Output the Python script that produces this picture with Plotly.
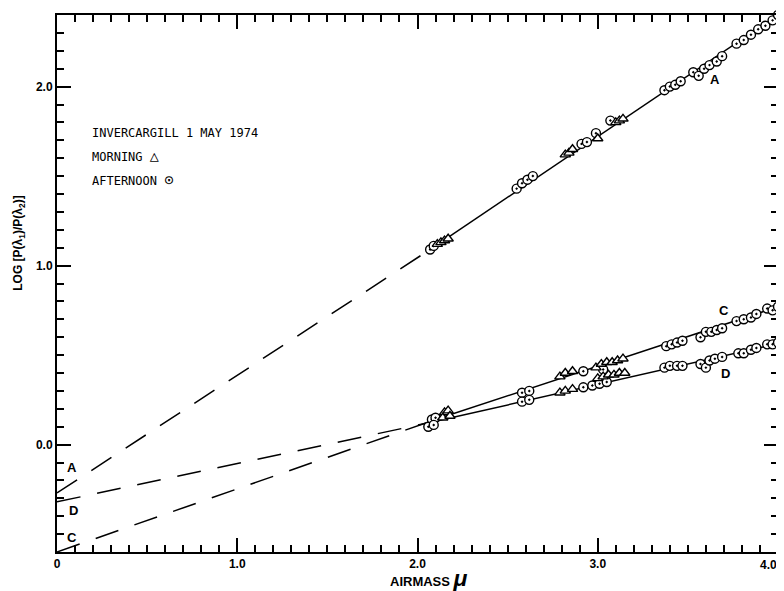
import plotly.graph_objects as go

# ---------------- data ----------------
# fitted lines: knots at airmass 0, 2.1 and 4.0
fit_x = [0.0, 2.1, 4.0]
fit_A = [-0.27, 1.11, 2.40]
fit_C = [-0.60, 0.14, 0.77]
fit_D = [-0.32, 0.13, 0.565]

# curve A
A_pm_x = [2.07, 2.09, 2.55, 2.58, 2.61, 2.64, 2.91, 2.94, 2.99, 3.07,
          3.37, 3.40, 3.43, 3.46, 3.53, 3.56, 3.59, 3.62, 3.66, 3.69,
          3.77, 3.81, 3.85, 3.89, 3.93, 3.97, 4.00]
A_pm_y = [1.09, 1.11, 1.43, 1.46, 1.48, 1.50, 1.68, 1.69, 1.74, 1.81,
          1.98, 2.00, 2.01, 2.03, 2.08, 2.06, 2.10, 2.12, 2.14, 2.17,
          2.24, 2.26, 2.29, 2.32, 2.34, 2.37, 2.40]
A_am_x = [2.11, 2.13, 2.15, 2.17, 2.82, 2.84, 2.86, 3.00, 3.10, 3.12, 3.14]
A_am_y = [1.12, 1.13, 1.14, 1.15, 1.62, 1.63, 1.65, 1.71, 1.80, 1.81, 1.82]

# curve C
C_pm_x = [2.08, 2.10, 2.58, 2.62, 2.92, 3.03, 3.38, 3.41, 3.44, 3.47,
          3.57, 3.60, 3.63, 3.66, 3.69, 3.77, 3.81, 3.85, 3.88, 3.94, 3.97, 4.00]
C_pm_y = [0.14, 0.15, 0.29, 0.30, 0.41, 0.42, 0.55, 0.56, 0.57, 0.58,
          0.60, 0.63, 0.63, 0.64, 0.65, 0.69, 0.70, 0.71, 0.73, 0.76, 0.75, 0.77]
C_am_x = [2.15, 2.17, 2.79, 2.82, 2.86, 2.99, 3.02, 3.05, 3.08, 3.11, 3.14]
C_am_y = [0.18, 0.19, 0.38, 0.40, 0.41, 0.43, 0.45, 0.46, 0.46, 0.47, 0.48]

# curve D
D_pm_x = [2.06, 2.09, 2.58, 2.62, 2.92, 2.97, 3.01, 3.05, 3.37, 3.40, 3.44, 3.47,
          3.57, 3.60, 3.62, 3.65, 3.69, 3.78, 3.81, 3.85, 3.88, 3.94, 3.97, 4.00]
D_pm_y = [0.10, 0.11, 0.24, 0.25, 0.32, 0.33, 0.34, 0.35, 0.43, 0.44, 0.44, 0.44,
          0.45, 0.43, 0.47, 0.48, 0.49, 0.51, 0.51, 0.53, 0.54, 0.56, 0.56, 0.57]
D_am_x = [2.14, 2.18, 2.79, 2.82, 2.86, 3.00, 3.03, 3.06, 3.09, 3.12, 3.15]
D_am_y = [0.15, 0.16, 0.29, 0.30, 0.31, 0.37, 0.38, 0.39, 0.39, 0.40, 0.40]

x_tickvals = [0, 1, 2, 3, 4]
x_ticktext = ["0", "1.0", "2.0", "3.0", "4.0"]
y_tickvals = [0, 1, 2]
y_ticktext = ["0.0", "1.0", "2.0"]

# curve labels: (text, x, y)
curve_labels = [("A", 3.65, 2.04), ("C", 3.70, 0.75), ("D", 3.71, 0.40),
                ("A", 0.085, -0.13), ("D", 0.09, -0.37), ("C", 0.085, -0.52)]

# ---------------- figure ----------------
fig = go.Figure()
line_style = dict(color="black", width=1.5)
for fy in (fit_A, fit_C, fit_D):
    fig.add_trace(go.Scatter(x=fit_x[:2], y=fy[:2], mode="lines",
                             line=dict(color="black", width=1.5, dash="24px,17px"),
                             hoverinfo="skip"))
    fig.add_trace(go.Scatter(x=fit_x[1:], y=fy[1:], mode="lines",
                             line=line_style, hoverinfo="skip"))

circ = dict(symbol="circle-dot", size=9, color="white",
            line=dict(color="black", width=1.4))
tri = dict(symbol="triangle-up", size=9, color="white",
           line=dict(color="black", width=1.4))
for (xs, ys) in ((A_pm_x, A_pm_y), (C_pm_x, C_pm_y), (D_pm_x, D_pm_y)):
    fig.add_trace(go.Scatter(x=xs, y=ys, mode="markers", marker=circ, cliponaxis=False))
for (xs, ys) in ((A_am_x, A_am_y), (C_am_x, C_am_y), (D_am_x, D_am_y)):
    fig.add_trace(go.Scatter(x=xs, y=ys, mode="markers", marker=tri, cliponaxis=False))

lab_font = dict(family="Liberation Sans, Arial, sans-serif", size=13, color="black")
for t, x, y in curve_labels:
    fig.add_annotation(x=x, y=y, text="<b>%s</b>" % t, showarrow=False,
                       font=dict(family="Liberation Sans, Arial", size=13, color="black"))

mono = dict(family="DejaVu Sans Mono, Liberation Mono, monospace", size=12, color="black")
sym = "<span style='font-size:15px'>%s</span>"
for txt, yp in (("INVERCARGILL 1 MAY 1974", 0.780),
                ("MORNING " + sym % "\u25b3", 0.737),
                ("AFTERNOON " + sym % "\u2299", 0.693)):
    fig.add_annotation(xref="paper", yref="paper", x=0.046, y=yp, text=txt,
                       showarrow=False, xanchor="left", yanchor="middle", font=mono)

fig.add_annotation(xref="paper", yref="paper", x=0.516, y=-0.048,
                   text="<b>AIRMASS</b> <b><i><span style='font-size:23px'>\u03bc</span></i></b>",
                   showarrow=False, xanchor="center", yanchor="middle", font=lab_font)
fig.add_annotation(xref="paper", yref="paper", x=-0.052, y=0.575, textangle=-90,
                   text="<b>LOG [P(\u03bb<sub>1</sub>)/P(\u03bb<sub>2</sub>)]</b>",
                   showarrow=False, xanchor="center", yanchor="middle",
                   font=dict(family="Liberation Sans, Arial", size=12, color="black"))

tick_font = dict(family="Liberation Sans, Arial", size=12, color="black")
# last x tick label sits at the right edge of the page: anchor it right so it stays visible
fig.add_annotation(x=x_tickvals[-1], xref="x", yref="paper", y=0, yshift=-4,
                   text="<b>%s</b>" % x_ticktext[-1], showarrow=False,
                   xanchor="right", yanchor="top", xshift=1, font=tick_font)

axis_common = dict(showgrid=False, zeroline=False, showline=True, linecolor="black",
                   linewidth=2, ticks="inside", ticklen=14, tickwidth=2,
                   tickcolor="black", mirror="allticks", automargin=False,
                   tickfont=tick_font)
fig.update_xaxes(range=[0, 4.0], tickmode="array", tickvals=x_tickvals,
                 ticktext=["<b>%s</b>" % t for t in x_ticktext[:-1]] + [""],
                 minor=dict(ticks="inside", dtick=0.1, tick0=0, ticklen=7,
                            tickwidth=1.5, tickcolor="black"),
                 **axis_common)
fig.update_yaxes(range=[-0.6, 2.4], tickmode="array", tickvals=y_tickvals,
                 ticktext=["<b>%s</b>" % t for t in y_ticktext],
                 minor=dict(ticks="inside", dtick=0.1, tick0=0, ticklen=7,
                            tickwidth=1.5, tickcolor="black"),
                 **axis_common)

# page body has an 8px margin, so the figure is sized to fit the window
fig.update_layout(width=776, height=583, showlegend=False,
                  margin=dict(l=49, r=6, t=7, b=39),
                  plot_bgcolor="white", paper_bgcolor="white")

fig.write_html("out.html")
